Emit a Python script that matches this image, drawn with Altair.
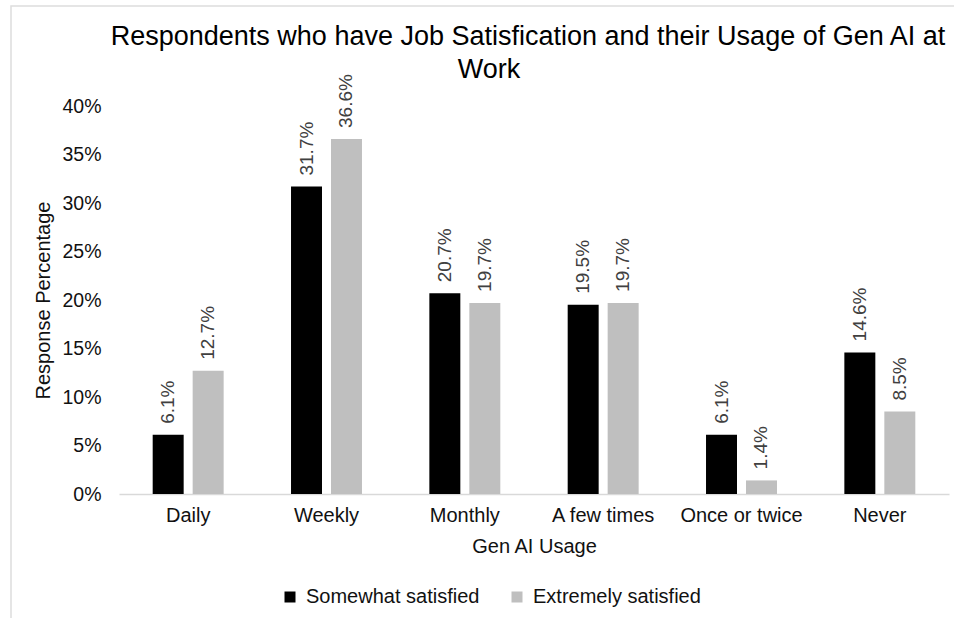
import altair as alt
import pandas as pd

categories = ["Daily", "Weekly", "Monthly", "A few times", "Once or twice", "Never"]
series = ["Somewhat satisfied", "Extremely satisfied"]
somewhat = [6.1, 31.7, 20.7, 19.5, 6.1, 14.6]
extremely = [12.7, 36.6, 19.7, 19.7, 1.4, 8.5]
colors = ["#000000", "#bfbfbf"]
y_ticks = [0, 0.05, 0.10, 0.15, 0.20, 0.25, 0.30, 0.35, 0.40]
title_lines = ["Respondents who have Job Satisfication and their Usage of Gen AI at", "Work"]

rows = []
for c, a, b in zip(categories, somewhat, extremely):
    rows.append({"usage": c, "series": series[0], "value": a / 100})
    rows.append({"usage": c, "series": series[1], "value": b / 100})
df = pd.DataFrame(rows)

FONT = "Liberation Sans"

base = alt.Chart(df).encode(
    x=alt.X(
        "usage:N",
        sort=categories,
        scale=alt.Scale(paddingInner=0.487, paddingOuter=0.2435),
        axis=alt.Axis(
            title="Gen AI Usage",
            labelAngle=0,
            ticks=False,
            domainColor="#d9d9d9",
            domainWidth=1.5,
            labelFontSize=20,
            titleFontSize=20,
            titleFontWeight="normal",
            labelPadding=11,
            titlePadding=11,
            labelColor="#111111",
            titleColor="#111111",
        ),
    ),
    xOffset=alt.XOffset("series:N", sort=series,
                        scale=alt.Scale(paddingInner=0.225, paddingOuter=0)),
    y=alt.Y(
        "value:Q",
        scale=alt.Scale(domain=[0, 0.4]),
        axis=alt.Axis(
            title="Response Percentage",
            format=".0%",
            values=y_ticks,
            grid=False,
            ticks=False,
            domain=False,
            labelFontSize=19.5,
            titleFontSize=20,
            titleFontWeight="normal",
            labelPadding=18,
            titlePadding=8,
            labelColor="#111111",
            titleColor="#111111",
        ),
    ),
)

bars = base.mark_bar().encode(
    color=alt.Color(
        "series:N",
        sort=series,
        scale=alt.Scale(domain=series, range=colors),
        legend=alt.Legend(
            title=None,
            orient="none",
            direction="horizontal",
            legendX=161,
            legendY=481,
            symbolType="square",
            symbolSize=121,
            symbolStrokeWidth=0,
            labelFontSize=20,
            labelColor="#111111",
            labelOffset=6,
            labelLimit=0,
            columnPadding=27,
            padding=0,
        ),
    )
)

labels = base.mark_text(
    angle=270, align="left", baseline="middle", dx=11, fontSize=19, color="#404040"
).encode(text=alt.Text("value:Q", format=".1%"))

frame = alt.Chart(pd.DataFrame({"f": [0]})).mark_rect(
    fillOpacity=0, stroke="#dddddd", strokeWidth=1.5
).encode(
    x=alt.value(-108), x2=alt.value(860), y=alt.value(-100), y2=alt.value(540)
)

title1 = alt.Chart(pd.DataFrame({"t": [title_lines[0]]})).mark_text(
    fontSize=27, color="#000000", align="center", baseline="middle"
).encode(text="t:N", x=alt.value(409), y=alt.value(-69))

title2 = alt.Chart(pd.DataFrame({"t": [title_lines[1]]})).mark_text(
    fontSize=27, color="#000000", align="center", baseline="middle"
).encode(text="t:N", x=alt.value(370), y=alt.value(-36))

chart = alt.layer(frame, title1, title2, bars, labels).properties(
    width=830,
    height=388,
    autosize=alt.AutoSizeParams(type="none"),
    padding={"left": 119, "top": 106, "right": 5, "bottom": 124},
).configure(font=FONT).configure_view(stroke=None)

chart.save("out.html", embed_options={"renderer": "svg", "actions": False})
